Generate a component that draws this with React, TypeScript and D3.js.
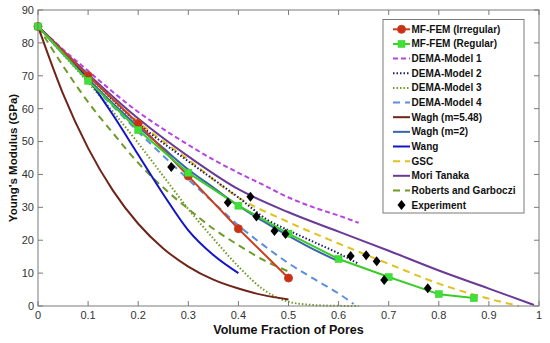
import React from 'react';
import * as d3 from 'd3';

// porosity values (x) and modulus values (GPa)
const irrX = [0, 0.1, 0.2, 0.3, 0.4, 0.5];
const irrY = [85, 70, 55.5, 39.5, 23.5, 8.5];

const regX = [0, 0.1, 0.2, 0.3, 0.4, 0.5, 0.6, 0.7, 0.8, 0.87];
const regY = [85, 68.5, 53.5, 40.5, 30.5, 22, 14.3, 8.8, 3.6, 2.4];

const dema1X = [0, 0.05, 0.1, 0.15, 0.2, 0.25, 0.3, 0.35, 0.4, 0.45, 0.5, 0.55, 0.6, 0.64];
const dema1Y = [85, 78, 71.5, 65, 59, 53.8, 49, 44.5, 40.5, 36.8, 33, 30, 27.5, 25.3];

const dema2X = [0, 0.1, 0.2, 0.3, 0.4, 0.46, 0.5, 0.55, 0.6, 0.64];
const dema2Y = [85, 70, 55.5, 44, 33, 26, 23, 19.5, 16, 12.8];

const dema3X = [0, 0.05, 0.1, 0.15, 0.2, 0.25, 0.3, 0.35, 0.4, 0.45, 0.5, 0.55, 0.6, 0.64];
const dema3Y = [85, 76.5, 68, 59, 49.5, 39.5, 29.5, 20.5, 12, 5, 1.3, 0.3, 0.05, 0];

const dema4X = [0, 0.1, 0.2, 0.3, 0.35, 0.4, 0.45, 0.5, 0.55, 0.6, 0.63];
const dema4Y = [85, 68.5, 53, 38.5, 31.5, 24.5, 18.5, 13, 8.3, 3.8, 0.6];

const wagh548X = [0, 0.05, 0.1, 0.15, 0.2, 0.25, 0.3, 0.35, 0.4, 0.45, 0.5];
const wagh548Y = [85, 64.5, 48, 35, 25, 17.5, 12, 8, 5.3, 3.3, 2];

const wagh2X = [0, 0.05, 0.1, 0.15, 0.2, 0.25, 0.3, 0.35, 0.4, 0.45, 0.5, 0.55, 0.6];
const wagh2Y = [85, 76.7, 69, 61.5, 54.5, 48, 41.5, 36, 30.5, 25.7, 21.3, 17.2, 13.6];

const wangX = [0, 0.05, 0.1, 0.15, 0.2, 0.25, 0.3, 0.35, 0.4];
const wangY = [85, 77.5, 69, 58, 46, 34, 23, 15.5, 10];

const gscX = [0, 0.1, 0.2, 0.3, 0.4, 0.5, 0.6, 0.7, 0.8, 0.9, 0.96];
const gscY = [85, 70, 56, 44.5, 33, 25.5, 19, 12.8, 6.8, 2.2, 0];

const moriX = [0, 0.1, 0.2, 0.3, 0.4, 0.5, 0.6, 0.7, 0.8, 0.9, 0.99];
const moriY = [85, 70.5, 57, 45.5, 35.5, 28.5, 22.6, 16.8, 10.8, 5.3, 0.3];

const rgX = [0, 0.05, 0.1, 0.15, 0.2, 0.25, 0.3, 0.35, 0.4, 0.45, 0.5];
const rgY = [85, 73, 62, 52.5, 43.5, 36, 29.5, 23.5, 18.5, 14, 10.5];

const expX = [0.266, 0.379, 0.424, 0.436, 0.472, 0.494, 0.624, 0.655, 0.676, 0.691, 0.778];
const expY = [42.3, 31.5, 33.2, 27.2, 22.8, 21.9, 15.2, 15.4, 13.6, 7.9, 5.4];

const xTicks = [0, 0.1, 0.2, 0.3, 0.4, 0.5, 0.6, 0.7, 0.8, 0.9, 1];
const yTicks = [0, 10, 20, 30, 40, 50, 60, 70, 80, 90];

type Series = {
  name: string;
  xs: number[];
  ys: number[];
  color: string;
  dash?: string;
  curve: boolean;
  marker?: 'circle' | 'square' | 'diamond';
  markerFill?: string;
  noLine?: boolean;
};

const series: Series[] = [
  { name: 'MF-FEM (Irregular)', xs: irrX, ys: irrY, color: '#c8401e', curve: false, marker: 'circle', markerFill: '#c83018' },
  { name: 'MF-FEM (Regular)', xs: regX, ys: regY, color: '#3ccc28', curve: false, marker: 'square', markerFill: '#3ee03a' },
  { name: 'DEMA-Model 1', xs: dema1X, ys: dema1Y, color: '#b644e0', dash: '5,3', curve: true },
  { name: 'DEMA-Model 2', xs: dema2X, ys: dema2Y, color: '#1c1c6a', dash: '1.5,2', curve: true },
  { name: 'DEMA-Model 3', xs: dema3X, ys: dema3Y, color: '#6f9a22', dash: '1.5,2', curve: true },
  { name: 'DEMA-Model 4', xs: dema4X, ys: dema4Y, color: '#5a8ee0', dash: '7,5', curve: true },
  { name: 'Wagh (m=5.48)', xs: wagh548X, ys: wagh548Y, color: '#6e2418', curve: true },
  { name: 'Wagh (m=2)', xs: wagh2X, ys: wagh2Y, color: '#3a64ac', curve: true },
  { name: 'Wang', xs: wangX, ys: wangY, color: '#1414c8', curve: true },
  { name: 'GSC', xs: gscX, ys: gscY, color: '#e2c020', dash: '7,5', curve: true },
  { name: 'Mori Tanaka', xs: moriX, ys: moriY, color: '#6a3a96', curve: true },
  { name: 'Roberts and Garboczi', xs: rgX, ys: rgY, color: '#6e9a2a', dash: '7,5', curve: true },
  { name: 'Experiment', xs: expX, ys: expY, color: '#000000', curve: false, marker: 'diamond', markerFill: '#000000', noLine: true },
];

// draw order: models first, FEM and experiment on top
const drawOrder = [10, 9, 2, 3, 7, 5, 4, 11, 8, 6, 0, 1, 12];

const W = 550;
const H = 343;
const margin = { left: 38, right: 11, top: 10, bottom: 37 };

const x = d3.scaleLinear().domain([0, 1]).range([margin.left, W - margin.right]);
const y = d3.scaleLinear().domain([0, 90]).range([H - margin.bottom, margin.top]);

const Marker: React.FC<{ kind: string; cx: number; cy: number; fill: string; stroke: string }> = ({ kind, cx, cy, fill, stroke }) => {
  if (kind === 'circle') return <circle cx={cx} cy={cy} r={4} fill={fill} stroke={stroke} strokeWidth={1} />;
  if (kind === 'square') return <rect x={cx - 3.5} y={cy - 3.5} width={7} height={7} fill={fill} stroke={stroke} strokeWidth={0.5} />;
  return <path d={`M${cx},${cy - 5}L${cx + 4},${cy}L${cx},${cy + 5}L${cx - 4},${cy}Z`} fill={fill} />;
};

const App: React.FC = () => {
  const x0 = x.range()[0];
  const x1 = x.range()[1];
  const y0 = y.range()[0];
  const y1 = y.range()[1];
  const tickLen = 5;
  const axisColor = '#7a7a7a';
  const font = 'Arial, "Liberation Sans", Helvetica, sans-serif';

  const lineFor = (s: Series) => {
    const pts: [number, number][] = s.xs.map((v, i) => [v, s.ys[i]]);
    const gen = d3.line<[number, number]>()
      .x(d => x(d[0]))
      .y(d => y(d[1]))
      .curve(s.curve ? d3.curveMonotoneX : d3.curveLinear);
    return gen(pts) || '';
  };

  // legend geometry
  const lgLeft = 383;
  const lgRight = 524;
  const lgTop = 19.5;
  const lgBottom = 213;
  const lgRow0 = 29.3;
  const lgStep = 14.65;

  return (
    <svg width={W} height={H} style={{ position: 'absolute', left: 0, top: 0, background: '#fff' }} fontFamily={font}>
      <rect x={0} y={0} width={W} height={H} fill="#fff" />

      {/* series */}
      <g>
        {drawOrder.map(idx => {
          const s = series[idx];
          return (
            <g key={s.name}>
              {!s.noLine && (
                <path
                  d={lineFor(s)}
                  fill="none"
                  stroke={s.color}
                  strokeWidth={2}
                  strokeDasharray={s.dash}
                  strokeLinejoin="round"
                />
              )}
              {s.marker && s.xs.map((v, i) => (
                <Marker key={i} kind={s.marker!} cx={x(v)} cy={y(s.ys[i])} fill={s.markerFill || s.color} stroke={s.color} />
              ))}
            </g>
          );
        })}
      </g>

      {/* axes box */}
      <g stroke={axisColor} strokeWidth={1} fill="none">
        <rect x={x0} y={y1} width={x1 - x0} height={y0 - y1} />
        {xTicks.map(t => (
          <g key={`xt${t}`}>
            <line x1={x(t)} x2={x(t)} y1={y0} y2={y0 - tickLen} />
            <line x1={x(t)} x2={x(t)} y1={y1} y2={y1 + tickLen} />
          </g>
        ))}
        {yTicks.map(t => (
          <g key={`yt${t}`}>
            <line x1={x0} x2={x0 + tickLen} y1={y(t)} y2={y(t)} />
            <line x1={x1} x2={x1 - tickLen} y1={y(t)} y2={y(t)} />
          </g>
        ))}
      </g>

      {/* tick labels */}
      <g fill="#333" fontSize={11}>
        {xTicks.map(t => (
          <text key={`xl${t}`} x={x(t)} y={y0 + 13} textAnchor="middle">{d3.format('~g')(t)}</text>
        ))}
        {yTicks.map(t => (
          <text key={`yl${t}`} x={x0 - 4} y={y(t)} dy="0.35em" textAnchor="end">{t}</text>
        ))}
      </g>

      {/* axis titles */}
      <text x={(x0 + x1) / 2} y={334} textAnchor="middle" fontSize={12.5} fontWeight="bold" fill="#111">
        Volume Fraction of Pores
      </text>
      <text
        transform={`translate(17,${(y0 + y1) / 2}) rotate(-90)`}
        textAnchor="middle"
        fontSize={11.5}
        fontWeight="bold"
        fill="#111"
      >
        Young's Modulus (GPa)
      </text>

      {/* legend */}
      <g>
        <rect x={lgLeft} y={lgTop} width={lgRight - lgLeft} height={lgBottom - lgTop} fill="#fff" stroke={axisColor} strokeWidth={1} />
        {series.map((s, i) => {
          const cy = lgRow0 + i * lgStep;
          return (
            <g key={`lg${s.name}`}>
              {!s.noLine && (
                <line x1={393} x2={410} y1={cy} y2={cy} stroke={s.color} strokeWidth={2} strokeDasharray={s.dash} />
              )}
              {s.marker && (
                <Marker kind={s.marker} cx={401.5} cy={cy} fill={s.markerFill || s.color} stroke={s.color} />
              )}
              <text x={411.5} y={cy} dy="0.35em" fontSize={10} fontWeight="bold" fill="#111">{s.name}</text>
            </g>
          );
        })}
      </g>
    </svg>
  );
};

export default App;
